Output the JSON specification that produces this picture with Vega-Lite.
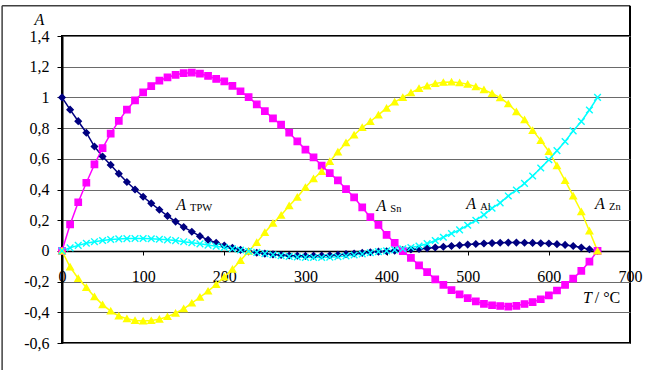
{
  "$schema": "https://vega.github.io/schema/vega-lite/v6.json",
  "width": 568,
  "height": 307,
  "autosize": {"type": "none"},
  "padding": {"left": 62, "top": 36, "right": 17, "bottom": 27},
  "background": "white",
  "config": {
    "view": {"stroke": "black", "strokeWidth": 2},
    "font": "Liberation Serif, Times New Roman, serif",
    "axis": {"labelFont": "Liberation Serif, Times New Roman, serif", "titleFont": "Liberation Serif, Times New Roman, serif"},
    "text": {"font": "Liberation Serif, Times New Roman, serif"}
  },
  "datasets": {
    "curves": [
      {"T": 0, "TPW": 1.0, "Sn": 0, "Al": 0, "Zn": 0},
      {"T": 10, "TPW": 0.92, "Sn": 0.172, "Al": -0.105, "Zn": 0.02},
      {"T": 20, "TPW": 0.845, "Sn": 0.317, "Al": -0.18, "Zn": 0.036},
      {"T": 30, "TPW": 0.77, "Sn": 0.444, "Al": -0.238, "Zn": 0.05},
      {"T": 40, "TPW": 0.68, "Sn": 0.563, "Al": -0.298, "Zn": 0.06},
      {"T": 50, "TPW": 0.615, "Sn": 0.67, "Al": -0.35, "Zn": 0.068},
      {"T": 60, "TPW": 0.56, "Sn": 0.764, "Al": -0.392, "Zn": 0.074},
      {"T": 70, "TPW": 0.503, "Sn": 0.847, "Al": -0.424, "Zn": 0.078},
      {"T": 80, "TPW": 0.449, "Sn": 0.92, "Al": -0.442, "Zn": 0.08},
      {"T": 90, "TPW": 0.4, "Sn": 0.981, "Al": -0.453, "Zn": 0.081},
      {"T": 100, "TPW": 0.353, "Sn": 1.033, "Al": -0.456, "Zn": 0.081},
      {"T": 110, "TPW": 0.31, "Sn": 1.074, "Al": -0.454, "Zn": 0.079},
      {"T": 120, "TPW": 0.268, "Sn": 1.11, "Al": -0.445, "Zn": 0.076},
      {"T": 130, "TPW": 0.228, "Sn": 1.13, "Al": -0.428, "Zn": 0.072},
      {"T": 140, "TPW": 0.191, "Sn": 1.147, "Al": -0.406, "Zn": 0.067},
      {"T": 150, "TPW": 0.155, "Sn": 1.158, "Al": -0.377, "Zn": 0.06},
      {"T": 160, "TPW": 0.125, "Sn": 1.161, "Al": -0.34, "Zn": 0.053},
      {"T": 170, "TPW": 0.096, "Sn": 1.155, "Al": -0.302, "Zn": 0.046},
      {"T": 180, "TPW": 0.072, "Sn": 1.14, "Al": -0.262, "Zn": 0.038},
      {"T": 190, "TPW": 0.053, "Sn": 1.12, "Al": -0.219, "Zn": 0.03},
      {"T": 200, "TPW": 0.035, "Sn": 1.105, "Al": -0.17, "Zn": 0.022},
      {"T": 210, "TPW": 0.02, "Sn": 1.075, "Al": -0.12, "Zn": 0.014},
      {"T": 220, "TPW": 0.007, "Sn": 1.04, "Al": -0.062, "Zn": 0.006},
      {"T": 230, "TPW": -0.004, "Sn": 1.002, "Al": -0.003, "Zn": -0.002},
      {"T": 240, "TPW": -0.012, "Sn": 0.955, "Al": 0.055, "Zn": -0.01},
      {"T": 250, "TPW": -0.018, "Sn": 0.91, "Al": 0.12, "Zn": -0.018},
      {"T": 260, "TPW": -0.023, "Sn": 0.863, "Al": 0.18, "Zn": -0.025},
      {"T": 270, "TPW": -0.027, "Sn": 0.822, "Al": 0.232, "Zn": -0.031},
      {"T": 280, "TPW": -0.03, "Sn": 0.77, "Al": 0.294, "Zn": -0.036},
      {"T": 290, "TPW": -0.031, "Sn": 0.714, "Al": 0.35, "Zn": -0.04},
      {"T": 300, "TPW": -0.032, "Sn": 0.66, "Al": 0.414, "Zn": -0.042},
      {"T": 310, "TPW": -0.031, "Sn": 0.61, "Al": 0.47, "Zn": -0.043},
      {"T": 320, "TPW": -0.03, "Sn": 0.556, "Al": 0.517, "Zn": -0.043},
      {"T": 330, "TPW": -0.028, "Sn": 0.507, "Al": 0.582, "Zn": -0.041},
      {"T": 340, "TPW": -0.025, "Sn": 0.459, "Al": 0.645, "Zn": -0.038},
      {"T": 350, "TPW": -0.021, "Sn": 0.403, "Al": 0.705, "Zn": -0.033},
      {"T": 360, "TPW": -0.017, "Sn": 0.349, "Al": 0.755, "Zn": -0.027},
      {"T": 370, "TPW": -0.013, "Sn": 0.283, "Al": 0.804, "Zn": -0.02},
      {"T": 380, "TPW": -0.009, "Sn": 0.22, "Al": 0.843, "Zn": -0.012},
      {"T": 390, "TPW": -0.005, "Sn": 0.169, "Al": 0.886, "Zn": -0.005},
      {"T": 400, "TPW": -0.002, "Sn": 0.104, "Al": 0.93, "Zn": 0.0},
      {"T": 410, "TPW": 0.001, "Sn": 0.053, "Al": 0.97, "Zn": 0.007},
      {"T": 420, "TPW": 0.005, "Sn": -0.001, "Al": 1.0, "Zn": 0.014},
      {"T": 430, "TPW": 0.009, "Sn": -0.045, "Al": 1.03, "Zn": 0.022},
      {"T": 440, "TPW": 0.013, "Sn": -0.094, "Al": 1.058, "Zn": 0.032},
      {"T": 450, "TPW": 0.017, "Sn": -0.138, "Al": 1.075, "Zn": 0.047},
      {"T": 460, "TPW": 0.022, "Sn": -0.185, "Al": 1.09, "Zn": 0.068},
      {"T": 470, "TPW": 0.027, "Sn": -0.221, "Al": 1.098, "Zn": 0.089},
      {"T": 480, "TPW": 0.032, "Sn": -0.255, "Al": 1.1, "Zn": 0.113},
      {"T": 490, "TPW": 0.037, "Sn": -0.283, "Al": 1.095, "Zn": 0.137},
      {"T": 500, "TPW": 0.041, "Sn": -0.308, "Al": 1.086, "Zn": 0.167},
      {"T": 510, "TPW": 0.045, "Sn": -0.329, "Al": 1.07, "Zn": 0.2},
      {"T": 520, "TPW": 0.048, "Sn": -0.345, "Al": 1.05, "Zn": 0.235},
      {"T": 530, "TPW": 0.051, "Sn": -0.354, "Al": 1.026, "Zn": 0.278},
      {"T": 540, "TPW": 0.053, "Sn": -0.359, "Al": 0.998, "Zn": 0.313},
      {"T": 550, "TPW": 0.054, "Sn": -0.363, "Al": 0.958, "Zn": 0.358},
      {"T": 560, "TPW": 0.054, "Sn": -0.358, "Al": 0.907, "Zn": 0.397},
      {"T": 570, "TPW": 0.053, "Sn": -0.346, "Al": 0.854, "Zn": 0.44},
      {"T": 580, "TPW": 0.052, "Sn": -0.333, "Al": 0.785, "Zn": 0.488},
      {"T": 590, "TPW": 0.05, "Sn": -0.315, "Al": 0.72, "Zn": 0.54},
      {"T": 600, "TPW": 0.048, "Sn": -0.29, "Al": 0.648, "Zn": 0.594},
      {"T": 610, "TPW": 0.044, "Sn": -0.258, "Al": 0.555, "Zn": 0.653},
      {"T": 620, "TPW": 0.039, "Sn": -0.222, "Al": 0.458, "Zn": 0.713},
      {"T": 630, "TPW": 0.032, "Sn": -0.18, "Al": 0.358, "Zn": 0.782},
      {"T": 640, "TPW": 0.022, "Sn": -0.13, "Al": 0.255, "Zn": 0.843},
      {"T": 650, "TPW": 0.011, "Sn": -0.07, "Al": 0.13, "Zn": 0.918},
      {"T": 660, "TPW": 0.0, "Sn": 0.0, "Al": 0.0, "Zn": 1.0}
    ],
    "labels": [
      {"series": "TPW", "x": 146.7, "y": 0.3},
      {"series": "Sn", "x": 393.5, "y": 0.293},
      {"series": "Al", "x": 504.3, "y": 0.308},
      {"series": "Zn", "x": 663, "y": 0.308}
    ]
  },
  "layer": [
    {
      "data": {"name": "curves"},
      "transform": [{"fold": ["TPW", "Sn", "Al", "Zn"], "as": ["series", "A"]}],
      "mark": {"type": "line", "strokeWidth": 1.5},
      "encoding": {
        "x": {
          "field": "T", "type": "quantitative",
          "scale": {"domain": [0, 700], "nice": false, "zero": false},
          "axis": {
            "title": null, "offset": -92, "values": [0, 100, 200, 300, 400, 500, 600, 700], "tickCount": 20,
            "grid": false, "domainColor": "black", "domainWidth": 1.5,
            "tickColor": "black", "tickSize": 4, "labelPadding": 13,
            "labelFontSize": 16, "labelColor": "black",
            "labelFlush": false, "labelOverlap": false, "labelBound": false
          }
        },
        "y": {
          "field": "A", "type": "quantitative",
          "scale": {"domain": [-0.6, 1.4], "nice": false, "zero": false},
          "axis": {
            "title": "A", "titleFontStyle": "italic", "titleFontWeight": "normal", "titleFontSize": 16,
            "titleAngle": 0, "titleX": -23, "titleY": -17, "titleAlign": "center", "titleBaseline": "middle", "titleColor": "black",
            "values": [-0.6, -0.4, -0.2, 0, 0.2, 0.4, 0.6, 0.8, 1, 1.2, 1.4], "tickCount": 20,
            "labelExpr": "replace(toString(round(datum.value*10)/10), '.', ',')",
            "grid": true, "gridColor": "#6a6a6a", "gridWidth": 1,
            "domainColor": "black", "domainWidth": 2, "tickColor": "black", "tickSize": 5,
            "labelPadding": 8, "labelFontSize": 16, "labelColor": "black",
            "labelOverlap": false, "labelBound": false, "labelFlush": false
          }
        },
        "color": {
          "field": "series", "type": "nominal", "legend": null,
          "scale": {"domain": ["TPW", "Sn", "Al", "Zn"], "range": ["#000080", "#FF00FF", "#FFFF00", "#00FFFF"]}
        }
      }
    },
    {
      "data": {"name": "curves"},
      "transform": [{"fold": ["TPW", "Sn", "Al", "Zn"], "as": ["series", "A"]}],
      "mark": {"type": "point", "filled": true, "strokeWidth": 1.4, "opacity": 1},
      "encoding": {
        "x": {"field": "T", "type": "quantitative"},
        "y": {"field": "A", "type": "quantitative"},
        "color": {"field": "series", "type": "nominal", "legend": null},
        "stroke": {
          "field": "series", "type": "nominal", "legend": null,
          "scale": {"domain": ["TPW", "Sn", "Al", "Zn"], "range": ["#000080", "#FF00FF", "#FFFF00", "#00FFFF"]}
        },
        "shape": {
          "field": "series", "type": "nominal", "legend": null,
          "scale": {"domain": ["TPW", "Sn", "Al", "Zn"], "range": ["diamond", "square", "triangle-up", "M-1,-1L1,1M1,-1L-1,1"]}
        },
        "size": {
          "field": "series", "type": "nominal", "legend": null,
          "scale": {"domain": ["TPW", "Sn", "Al", "Zn"], "range": [38, 44, 64, 48]}
        }
      }
    },
    {
      "data": {"name": "labels"},
      "mark": {"type": "text", "text": "A", "fontStyle": "italic", "fontSize": 16, "align": "center", "baseline": "middle", "color": "black"},
      "encoding": {
        "x": {"field": "x", "type": "quantitative"},
        "y": {"field": "y", "type": "quantitative"}
      }
    },
    {
      "data": {"name": "labels"},
      "mark": {"type": "text", "fontSize": 10.5, "align": "left", "baseline": "middle", "dx": 9, "dy": 3.5, "color": "black"},
      "encoding": {
        "x": {"field": "x", "type": "quantitative"},
        "y": {"field": "y", "type": "quantitative"},
        "text": {"field": "series"}
      }
    },
    {
      "data": {"values": [{}]},
      "mark": {"type": "text", "text": "T", "fontStyle": "italic", "fontSize": 16, "align": "center", "baseline": "middle", "color": "black"},
      "encoding": {"x": {"datum": 647.5, "type": "quantitative"}, "y": {"datum": -0.306, "type": "quantitative"}}
    },
    {
      "data": {"values": [{}]},
      "mark": {"type": "text", "text": "/ °C", "fontSize": 16, "align": "left", "baseline": "middle", "color": "black"},
      "encoding": {"x": {"datum": 656.5, "type": "quantitative"}, "y": {"datum": -0.306, "type": "quantitative"}}
    },
    {
      "data": {"values": [{}]},
      "mark": {"type": "rule", "color": "#404040", "strokeWidth": 1.5},
      "encoding": {
        "x": {"datum": -73.8, "type": "quantitative"},
        "y": {"datum": 1.597, "type": "quantitative"},
        "y2": {"datum": -0.8}
      }
    },
    {
      "data": {"values": [{}]},
      "mark": {"type": "rule", "color": "#404040", "strokeWidth": 1.5},
      "encoding": {
        "y": {"datum": 1.597, "type": "quantitative"},
        "x": {"datum": -73.8, "type": "quantitative"},
        "x2": {"datum": 700}
      }
    },
    {
      "data": {"values": [{}]},
      "mark": {"type": "rule", "color": "black", "strokeWidth": 2},
      "encoding": {
        "x": {"datum": 700, "type": "quantitative"},
        "y": {"datum": 1.597, "type": "quantitative"},
        "y2": {"datum": 1.4}
      }
    }
  ]
}
